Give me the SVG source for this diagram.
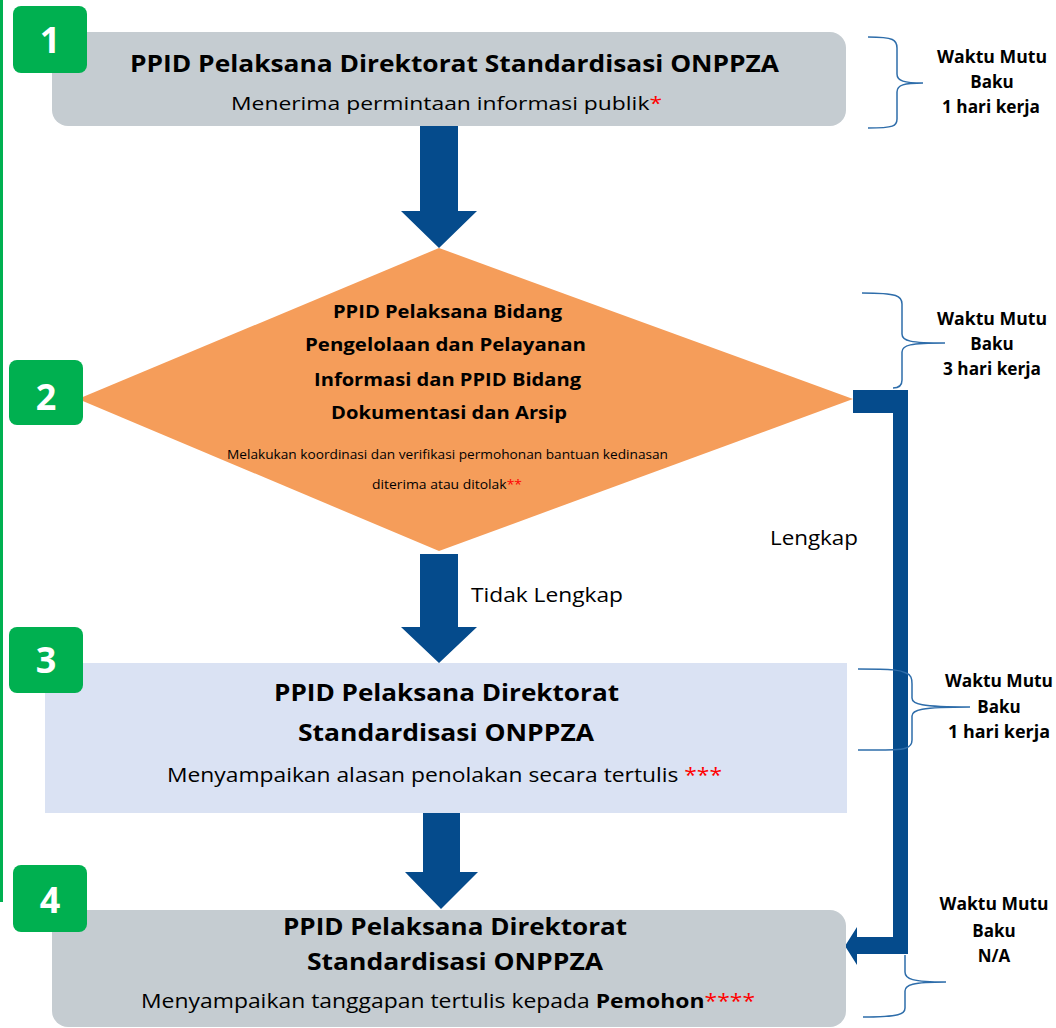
<svg xmlns="http://www.w3.org/2000/svg" width="1056" height="1028" viewBox="0 0 1056 1028">
<style>
.t{font-family:"Open Sans","Liberation Sans",Arial,sans-serif;fill:#000}
.b{font-weight:bold}
.badge rect{fill:#00B050}
.badge text{font-family:"Open Sans","Liberation Sans",Arial,sans-serif;font-weight:bold;font-size:36px;fill:#fff;text-anchor:middle}
.gray{fill:#C5CCD1}
.arrow{fill:#054B8C}
.br{fill:none;stroke:#2E6DAA;stroke-width:1.5}
.wm{font-family:"Open Sans","Liberation Sans",Arial,sans-serif;font-weight:bold;font-size:17px;text-anchor:middle;fill:#000}
.red{fill:#FF0000}
</style>
<rect x="0" y="0" width="3" height="902" fill="#00B050"/>

<g id="connectors">
<polygon class="arrow" points="420,126 458,126 458,211 477,211 439,248 401,211 420,211"/>
<polygon class="arrow" points="420,554 458,554 458,627 477,627 439,663 401,627 420,627"/>
<polygon class="arrow" points="423,808 460,808 460,872 478,872 441,909 405,872 423,872"/>
<polygon class="arrow" points="853,390 908,390 908,954 857,954 857,965 845,946 857,927 857,937 893,937 893,413 853,413"/>
<text class="t" x="471" y="602" font-size="20" textLength="152" lengthAdjust="spacingAndGlyphs">Tidak Lengkap</text>
<text class="t" x="770" y="545" font-size="20" textLength="88" lengthAdjust="spacingAndGlyphs">Lengkap</text>
</g>

<g id="node1">
<rect class="gray" x="52" y="32" width="794" height="94" rx="16"/>
<text class="t b" x="454.5" y="72" font-size="24" text-anchor="middle" textLength="649" lengthAdjust="spacingAndGlyphs">PPID Pelaksana Direktorat Standardisasi ONPPZA</text>
<text class="t" x="446.5" y="110" font-size="19" text-anchor="middle" textLength="431" lengthAdjust="spacingAndGlyphs">Menerima permintaan informasi publik<tspan class="red">*</tspan></text>
</g>
<g id="badge1" class="badge"><rect x="13" y="6" width="74" height="67" rx="8"/><text x="50" y="53">1</text></g>

<g id="node2">
<polygon points="439,248 853,399 439,551 78,399" fill="#F59D5A"/>
<text class="t b" x="447.5" y="318" font-size="18" text-anchor="middle" textLength="229" lengthAdjust="spacingAndGlyphs">PPID Pelaksana Bidang</text>
<text class="t b" x="445.5" y="351" font-size="18" text-anchor="middle" textLength="281" lengthAdjust="spacingAndGlyphs">Pengelolaan dan Pelayanan</text>
<text class="t b" x="447.5" y="386" font-size="18" text-anchor="middle" textLength="267" lengthAdjust="spacingAndGlyphs">Informasi dan PPID Bidang</text>
<text class="t b" x="449" y="419" font-size="18" text-anchor="middle" textLength="236" lengthAdjust="spacingAndGlyphs">Dokumentasi dan Arsip</text>
<text class="t" x="447.5" y="459" font-size="12" text-anchor="middle" textLength="441" lengthAdjust="spacingAndGlyphs">Melakukan koordinasi dan verifikasi permohonan bantuan kedinasan</text>
<text class="t" x="447" y="489" font-size="12" text-anchor="middle" textLength="150" lengthAdjust="spacingAndGlyphs">diterima atau ditolak<tspan class="red">**</tspan></text>
</g>
<g id="badge2" class="badge"><rect x="9" y="360" width="74" height="65" rx="8"/><text x="46" y="410">2</text></g>

<g id="node3">
<rect x="45" y="663" width="802" height="150" fill="#DAE2F3"/>
<text class="t b" x="446.5" y="701" font-size="24" text-anchor="middle" textLength="345" lengthAdjust="spacingAndGlyphs">PPID Pelaksana Direktorat</text>
<text class="t b" x="446" y="741" font-size="24" text-anchor="middle" textLength="296" lengthAdjust="spacingAndGlyphs">Standardisasi ONPPZA</text>
<text class="t" x="444.5" y="782" font-size="20" text-anchor="middle" textLength="555" lengthAdjust="spacingAndGlyphs">Menyampaikan alasan penolakan secara tertulis <tspan class="red">***</tspan></text>
</g>
<g id="badge3" class="badge"><rect x="9" y="627" width="74" height="66" rx="8"/><text x="46" y="673">3</text></g>

<g id="node4">
<rect class="gray" x="52" y="910" width="794" height="117" rx="16"/>
<text class="t b" x="455" y="935" font-size="24" text-anchor="middle" textLength="344" lengthAdjust="spacingAndGlyphs">PPID Pelaksana Direktorat</text>
<text class="t b" x="455" y="970" font-size="24" text-anchor="middle" textLength="296" lengthAdjust="spacingAndGlyphs">Standardisasi ONPPZA</text>
<text class="t" x="448" y="1008" font-size="20" text-anchor="middle" textLength="614" lengthAdjust="spacingAndGlyphs">Menyampaikan tanggapan tertulis kepada <tspan font-weight="bold">Pemohon</tspan><tspan class="red">****</tspan></text>
</g>
<g id="badge4" class="badge"><rect x="13" y="865" width="74" height="67" rx="8"/><text x="50" y="913">4</text></g>

<g id="brackets">
<path class="br" d="M868,37 C894,37 897,40 897,48 L897,74 C897,81 904,83 923,83 C904,83 897,85 897,92 L897,119 C897,126 894,128 868,128"/>
<path class="br" d="M862,293 C898,293 902,296 902,304 L902,334 C902,341 910,343 945,343 C910,343 902,345 902,352 L902,380 C902,386 898,388 893,388"/>
<path class="br" d="M858,669 C895,669 900,670 906,673 C911,675 912,678 912,684 L912,698 C912,704 920,707 970,707 C920,707 912,710 912,716 L912,740 C912,745 909,747 906,748 C900,750 895,750 858,750"/>
<path class="br" d="M905,955 L905,972 C905,979 912,982 946,982 C912,982 905,985 905,991 L905,1008 C905,1014 900,1017 863,1017"/>
</g>

<g id="labels">
<text class="wm" x="992" y="63" textLength="110" lengthAdjust="spacingAndGlyphs">Waktu Mutu</text>
<text class="wm" x="992" y="88">Baku</text>
<text class="wm" x="991" y="113" textLength="98" lengthAdjust="spacingAndGlyphs">1 hari kerja</text>
<text class="wm" x="992" y="325" textLength="110" lengthAdjust="spacingAndGlyphs">Waktu Mutu</text>
<text class="wm" x="992" y="350">Baku</text>
<text class="wm" x="992" y="375" textLength="98" lengthAdjust="spacingAndGlyphs">3 hari kerja</text>
<text class="wm" x="999" y="687" textLength="108" lengthAdjust="spacingAndGlyphs">Waktu Mutu</text>
<text class="wm" x="999" y="713">Baku</text>
<text class="wm" x="999" y="738" textLength="102" lengthAdjust="spacingAndGlyphs">1 hari kerja</text>
<text class="wm" x="994" y="910" textLength="109" lengthAdjust="spacingAndGlyphs">Waktu Mutu</text>
<text class="wm" x="994" y="937">Baku</text>
<text class="wm" x="994" y="962">N/A</text>
</g>
</svg>
